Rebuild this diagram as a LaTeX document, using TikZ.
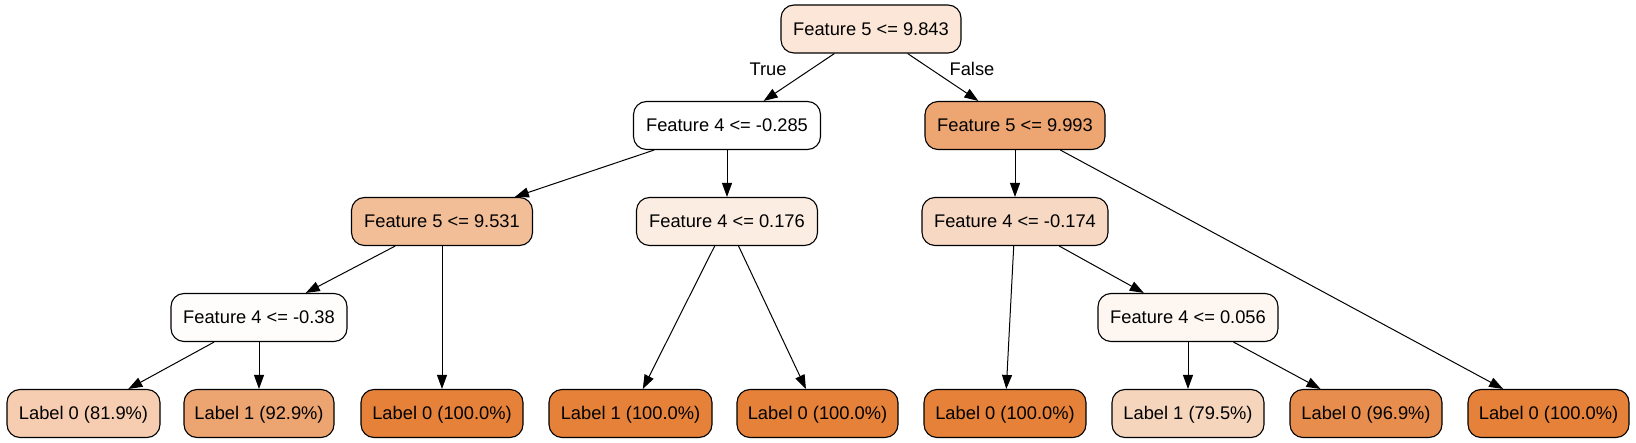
\documentclass[tikz,border=0pt]{standalone}
\usepackage{fontspec}
\setmainfont{Liberation Sans}
\usetikzlibrary{arrows.meta}
\definecolor{cRoot}{RGB}{251,230,215}
\definecolor{cA}{RGB}{255,255,255}
\definecolor{cB}{RGB}{237,166,114}
\definecolor{cC}{RGB}{242,190,152}
\definecolor{cD}{RGB}{252,237,226}
\definecolor{cE}{RGB}{247,216,194}
\definecolor{cF}{RGB}{255,253,251}
\definecolor{cG}{RGB}{253,246,241}
\definecolor{cL1}{RGB}{246,205,176}
\definecolor{cL2}{RGB}{236,165,113}
\definecolor{cFull}{RGB}{229,129,57}
\definecolor{cL7}{RGB}{246,213,189}
\definecolor{cL8}{RGB}{231,142,78}
\begin{document}
\begin{tikzpicture}[x=1pt,y=-1pt,
  tn/.style={draw=black, line width=1.1pt, rounded corners=13pt, minimum height=48pt,
    inner xsep=4pt, inner ysep=0pt, text height=15pt, text depth=2pt,
    font=\fontsize{18.3pt}{22pt}\selectfont, text=black},
  edge/.style={line width=1pt, -{Triangle[length=14pt,width=10pt]}},
  lbl/.style={font=\fontsize{18.3pt}{22pt}\selectfont}]
\useasboundingbox (0,0) rectangle (1636,443);
% internal nodes
\node[tn, fill=cRoot, minimum width=180pt] (n0) at (871,29) {Feature 5 <= 9.843};
\node[tn, fill=cA, minimum width=187pt] (n1) at (727,125.5) {Feature 4 <= -0.285};
\node[tn, fill=cB, minimum width=180pt] (n2) at (1015,125.5) {Feature 5 <= 9.993};
\node[tn, fill=cC, minimum width=181pt] (n3) at (442,221.5) {Feature 5 <= 9.531};
\node[tn, fill=cD, minimum width=181pt] (n4) at (727,221.5) {Feature 4 <= 0.176};
\node[tn, fill=cE, minimum width=186pt] (n5) at (1015,221.5) {Feature 4 <= -0.174};
\node[tn, fill=cF, minimum width=176pt] (n6) at (259,317.5) {Feature 4 <= -0.38};
\node[tn, fill=cG, minimum width=180pt] (n7) at (1188,317.5) {Feature 4 <= 0.056};
% leaves
\node[tn, fill=cL1, minimum width=153pt] (l1) at (83.5,413.5) {Label 0 (81.9\%)};
\node[tn, fill=cL2, minimum width=150pt] (l2) at (259,413.5) {Label 1 (92.9\%)};
\node[tn, fill=cFull, minimum width=162pt] (l3) at (442,413.5) {Label 0 (100.0\%)};
\node[tn, fill=cFull, minimum width=163pt] (l4) at (630.5,413.5) {Label 1 (100.0\%)};
\node[tn, fill=cFull, minimum width=161pt] (l5) at (817.5,413.5) {Label 0 (100.0\%)};
\node[tn, fill=cFull, minimum width=162pt] (l6) at (1005,413.5) {Label 0 (100.0\%)};
\node[tn, fill=cL7, minimum width=152pt] (l7) at (1188,413.5) {Label 1 (79.5\%)};
\node[tn, fill=cL8, minimum width=152pt] (l8) at (1366,413.5) {Label 0 (96.9\%)};
\node[tn, fill=cFull, minimum width=161pt] (l9) at (1548.5,413.5) {Label 0 (100.0\%)};
% edges
\draw[edge] (n0) -- (n1);
\draw[edge] (n0) -- (n2);
\draw[edge] (n1) -- (n3);
\draw[edge] (n1) -- (n4);
\draw[edge] (n2) -- (n5);
\draw[edge] (n2) -- (l9);
\draw[edge] (n3) -- (n6);
\draw[edge] (n3) -- (l3);
\draw[edge] (n4) -- (l4);
\draw[edge] (n4) -- (l5);
\draw[edge] (n5) -- (l6);
\draw[edge] (n5) -- (n7);
\draw[edge] (n6) -- (l1);
\draw[edge] (n6) -- (l2);
\draw[edge] (n7) -- (l7);
\draw[edge] (n7) -- (l8);
% edge labels
\node[lbl] (tlab) at (768,69) {True};
\node[lbl] (flab) at (972,69) {False};
\end{tikzpicture}
\end{document}
